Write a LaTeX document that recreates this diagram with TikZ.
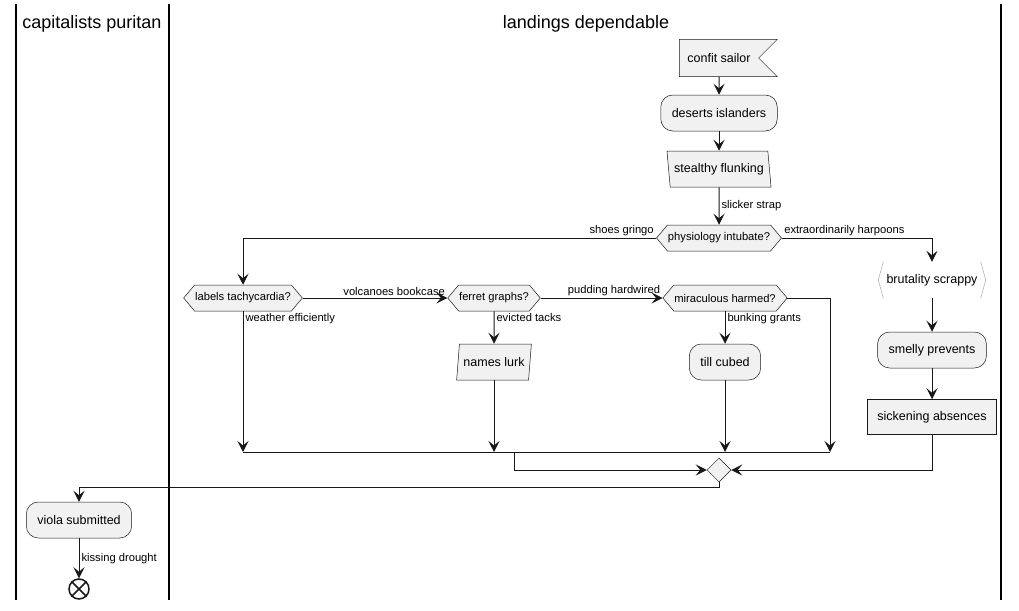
\documentclass[tikz,border=0pt]{standalone}
\usepackage{fontspec}
\setmainfont{Liberation Sans}
\usetikzlibrary{arrows.meta,shapes.geometric,shapes.symbols}
\definecolor{nodefill}{HTML}{F1F1F1}
\definecolor{ink}{HTML}{181818}

\begin{document}
\begin{tikzpicture}[x=1pt, y=-1pt,
        font=\fontsize{12.5}{14}\selectfont,
        shape base/.style={draw=ink, line width=0.5pt, fill=nodefill},
        act/.style={shape base, rounded corners=12pt, minimum height=36pt, inner xsep=11pt},
        box/.style={shape base, minimum height=35pt, inner xsep=10pt},
        slanted/.style={shape base, trapezium, trapezium stretches=true, minimum height=36pt, inner xsep=4pt},
        hexa/.style={shape base, signal, signal to=east and west, signal pointer angle=100, minimum height=26pt, inner xsep=0.5pt, inner ysep=5pt, font=\fontsize{11.2}{13}\selectfont},
        flow/.style={draw=ink, line width=1pt, -{Stealth[length=11pt,width=11pt,inset=4.5pt]}},
        wire/.style={draw=ink, line width=1pt},
        lbl/.style={font=\fontsize{11.2}{13}\selectfont, inner sep=2pt},
        lane/.style={line width=1.4pt}]
    \useasboundingbox (0,0) rectangle (1019,610);

    % Swimlanes
    \draw[lane] (16,4) -- (16,600);
    \draw[lane] (169,4) -- (169,600);
    \draw[lane] (1001,4) -- (1001,600);
    \node[font=\fontsize{18}{20}\selectfont] (laneA) at (92,24) {capitalists puritan};
    \node[font=\fontsize{18}{20}\selectfont] (laneB) at (586,24) {landings dependable};

    % Main column
    \node[shape base, signal, signal to=nowhere, signal from=east, signal pointer angle=90, minimum height=37pt, inner xsep=8pt] (sailor) at (719,58) {confit sailor};
    \node[act] (deserts) at (719,113) {deserts islanders};
    \node[slanted, trapezium left angle=100, trapezium right angle=80] (stealthy) at (719,169) {stealthy flunking};
    \node[hexa] (physio) at (719,238) {physiology intubate?};

    % Left branch
    \node[hexa] (labels) at (243,298) {labels tachycardia?};
    \node[hexa] (ferret) at (494,298) {ferret graphs?};
    \node[hexa] (miracle) at (725,298) {miraculous harmed?};
    \node[slanted, trapezium left angle=80, trapezium right angle=100] (lurk) at (494,362) {names lurk};
    \node[act] (cubed) at (725,362) {till cubed};

    % Right branch
    \node[minimum height=36pt, inner xsep=8pt] (brutal) at (932,280) {brutality scrappy};
    \draw[gray!70, line width=0.5pt] ([xshift=5pt]brutal.north west) -- (brutal.west) -- ([xshift=5pt]brutal.south west);
    \draw[gray!70, line width=0.5pt] ([xshift=-5pt]brutal.north east) -- (brutal.east) -- ([xshift=-5pt]brutal.south east);
    \node[act] (smelly) at (932,350) {smelly prevents};
    \node[box] (sick) at (932,417) {sickening absences};

    % Merge and end
    \node[shape base, diamond, minimum width=24pt, minimum height=24pt, inner sep=0pt] (merge) at (719,470) {};
    \node[act] (viola) at (79,520) {viola submitted};
    \node[draw=ink, circle, line width=1.5pt, minimum size=20pt, inner sep=0pt] (stop) at (79,589) {};
    \draw[ink, line width=1.5pt] (stop.45) -- (stop.225) (stop.135) -- (stop.315);

    \coordinate (j1) at (243,452);
    \coordinate (j2) at (494,452);
    \coordinate (j3) at (725,452);
    \coordinate (j4) at (830,452);
    \coordinate (j5) at (514,452);
    \coordinate (m1) at (719,487);

    % Connectors
    \draw[flow] (sailor) -- (deserts);
    \draw[flow] (deserts) -- (stealthy);
    \draw[flow] (stealthy) -- node[lbl, right] {slicker strap} (physio);
    \draw[flow] (physio.west) -| node[lbl, above left, pos=0] {shoes gringo} (labels.north);
    \draw[flow] (physio.east) -| node[lbl, above right, pos=0] {extraordinarily harpoons} (brutal.north);
    \draw[flow] (labels.east) -- node[lbl, above left, pos=1] {volcanoes bookcase} (ferret.west);
    \draw[flow] (ferret.east) -- node[lbl, above left, pos=1] {pudding hardwired} (miracle.west);
    \draw[flow] (labels.south) -- node[lbl, below right, pos=0] {weather efficiently} (j1);
    \draw[flow] (ferret.south) -- node[lbl, below right, pos=0] {evicted tacks} (lurk);
    \draw[flow] (lurk) -- (j2);
    \draw[flow] (miracle.south) -- node[lbl, below right, pos=0] {bunking grants} (cubed);
    \draw[flow] (cubed) -- (j3);
    \draw[flow] (miracle.east) -| (j4);
    \draw[wire] (j1) -- (j4);
    \draw[flow] (j5) |- (merge.west);
    \draw[flow] (brutal) -- (smelly);
    \draw[flow] (smelly) -- (sick);
    \draw[flow] (sick.south) |- (merge.east);
    \draw[flow] (merge.south) -- (m1) -| (viola.north);
    \draw[flow] (viola) -- node[lbl, right] {kissing drought} (stop);
\end{tikzpicture}
\end{document}
